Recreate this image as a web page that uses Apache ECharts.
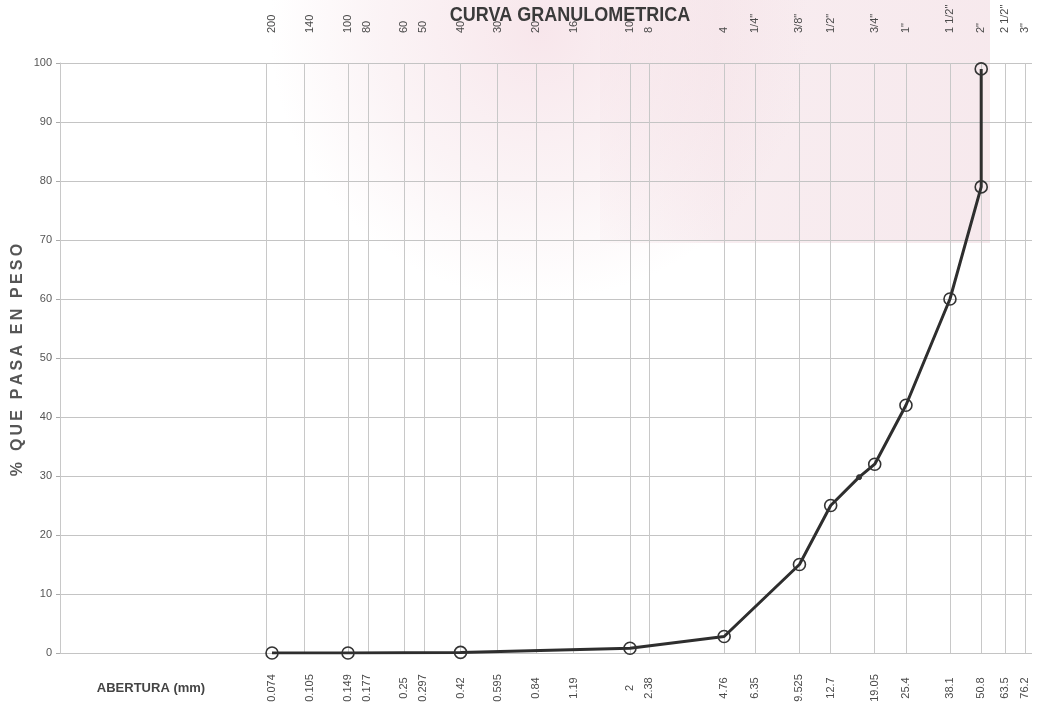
<!DOCTYPE html>
<html><head><meta charset="utf-8">
<script src="https://cdn.jsdelivr.net/npm/echarts@6/dist/echarts.min.js"></script>
<style>html,body{margin:0;padding:0;background:#fff}#c{width:1038px;height:713px}</style>
</head><body><div id="c"></div>
<script>
// Sieve openings (mm) and their labels
const sieveMm = [0.074,0.105,0.149,0.177,0.25,0.297,0.42,0.595,0.84,1.19,2,2.38,4.76,6.35,9.525,12.7,19.05,25.4,38.1,50.8,63.5,76.2];
const openingLabels = ['0.074','0.105','0.149','0.177','0.25','0.297','0.42','0.595','0.84','1.19','2','2.38','4.76','6.35','9.525','12.7','19.05','25.4','38.1','50.8','63.5','76.2'];
const sieveNames = ['200','140','100','80','60','50','40','30','20','16','10','8','4','1/4"','3/8"','1/2"','3/4"','1"','1 1/2"','2"','2 1/2"','3"'];
// Grading curve
const curveMm  = [0.074,0.149,0.42,2,4.76,9.525,12.7,16.5,19.05,25.4,38.1,50.8,50.8];
const curvePct = [0,0,0.1,0.8,2.8,15,25,29.8,32,42,60,79,99];
const curveMarked = [true,true,true,true,true,true,true,false,true,true,true,true,true];
const yTicks = [0,10,20,30,40,50,60,70,80,90,100];

const FONT = '"Liberation Sans", Arial, sans-serif';
const chart = echarts.init(document.getElementById('c'), null, {renderer:'canvas'});

const curveData = curveMm.map((x,i)=>({
  value:[x,curvePct[i]],
  symbolSize: curveMarked[i] ? 12 : 5,
  itemStyle: curveMarked[i] ? {color:'rgba(255,255,255,0)', borderColor:'#333', borderWidth:1.6}
                            : {color:'#333', borderColor:'#333', borderWidth:1}
}));

chart.setOption({
  backgroundColor:'#ffffff',
  animation:false,
  grid:{left:60, right:6, top:63, bottom:60},
  xAxis:{type:'log', logBase:10, min:0.0105, max:81.1,
    axisLine:{show:false}, axisTick:{show:false}, axisLabel:{show:false}, splitLine:{show:false}},
  yAxis:{type:'value', min:0, max:100, interval:10,
    axisLine:{show:true, lineStyle:{color:'#c8c8c8', width:1}},
    axisTick:{show:true, length:4, lineStyle:{color:'#aaa'}},
    axisLabel:{color:'#555', fontSize:11, fontFamily:FONT, margin:8,
      customValues: yTicks},
    splitLine:{show:true, lineStyle:{color:'#c4c4c4', width:1}}},
  series:[
    {type:'line', data:[], silent:true,
     markLine:{silent:true, symbol:'none', label:{show:false},
       lineStyle:{color:'#c8c8c8', width:1, type:'solid'},
       data: sieveMm.map(v=>({xAxis:v}))}},
    {type:'line', data:curveData, symbol:'circle', showSymbol:true, z:5,
     lineStyle:{color:'#2e2e2e', width:3}, silent:true}
  ]
});

function spaced(s){ return s.split('').join('\u2009'); }

function addGraphics(){
  const g = [];
  // faint pink watermark
  g.push({type:'rect', z:-10, silent:true, shape:{x:600,y:0,width:390,height:243},
    style:{fill:{type:'linear',x:0,y:0,x2:1,y2:0,colorStops:[{offset:0,color:'rgba(240,215,222,0.1)'},{offset:0.3,color:'rgba(240,215,222,0.45)'},{offset:1,color:'rgba(240,215,222,0.55)'}]}}});
  g.push({type:'circle', z:-10, silent:true, shape:{cx:540,cy:30,r:270},
    style:{fill:{type:'radial',x:0.5,y:0.5,r:0.5,colorStops:[{offset:0,color:'rgba(240,205,215,0.5)'},{offset:0.6,color:'rgba(240,210,218,0.25)'},{offset:1,color:'rgba(240,210,218,0)'}]}}});
  const yTop = chart.convertToPixel({yAxisIndex:0}, 100);
  const yBot = chart.convertToPixel({yAxisIndex:0}, 0);
  sieveMm.forEach((v,i)=>{
    const px = chart.convertToPixel({xAxisIndex:0}, v);
    g.push({type:'text', silent:true, x:px, y:yBot+35, rotation:Math.PI/2,
      style:{text:openingLabels[i], fill:'#4a4a4a', font:'11px '+FONT, align:'center', verticalAlign:'middle'}});
    g.push({type:'text', silent:true, x:px, y:yTop-30, rotation:Math.PI/2,
      style:{text:sieveNames[i], fill:'#4a4a4a', font:'11px '+FONT, align:'left', verticalAlign:'middle'}});
  });
  g.push({type:'text', silent:true, x:570, y:15, scaleY:1.15,
    style:{text:'CURVA GRANULOMETRICA', fill:'#3a3a3a', font:'bold 18px '+FONT, align:'center', verticalAlign:'middle'}});
  g.push({type:'text', silent:true, x:18, y:360, rotation:Math.PI/2,
    style:{text:spaced('% QUE PASA EN PESO'), fill:'#555', font:'bold 16px '+FONT, align:'center', verticalAlign:'middle'}});
  g.push({type:'text', silent:true, x:151, y:688,
    style:{text:'ABERTURA (mm)', fill:'#444', font:'bold 13px '+FONT, align:'center', verticalAlign:'middle'}});
  chart.setOption({graphic:{elements:g}});
}
addGraphics();
</script>
</body></html>
